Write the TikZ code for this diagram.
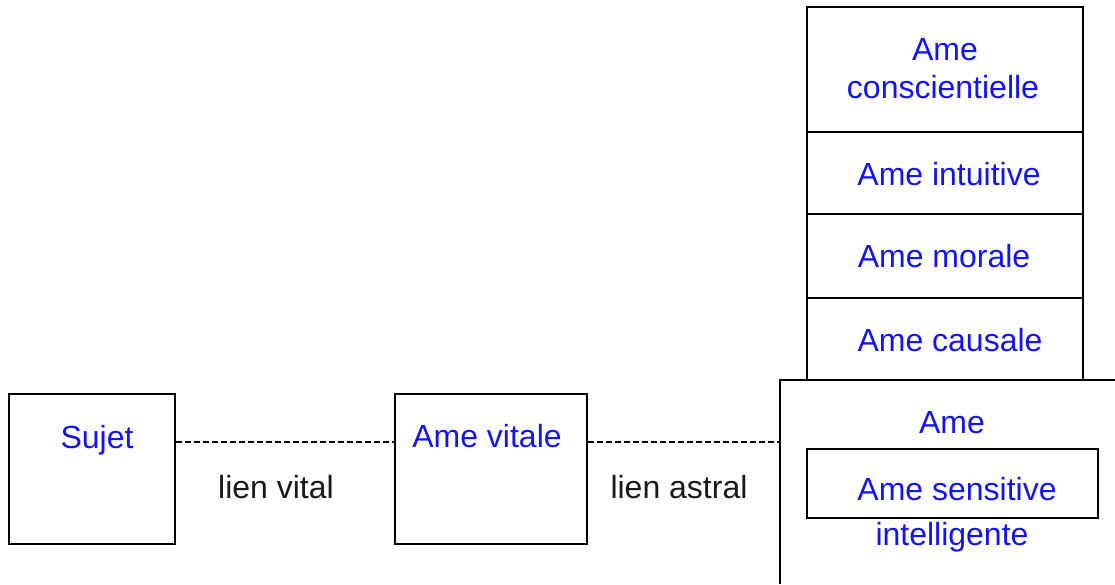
\documentclass[tikz,border=0pt]{standalone}
\usepackage{fontspec}
\setmainfont{Liberation Sans}
\definecolor{souleblue}{RGB}{20,20,240}
\definecolor{linkgray}{RGB}{25,25,25}
\tikzset{
  box/.style={draw=black, line width=1.6pt, rectangle, inner sep=0pt},
  soul/.style={font=\fontsize{32}{38}\selectfont, text=souleblue, anchor=base, inner sep=0pt},
  linktext/.style={font=\fontsize{32}{38}\selectfont, text=linkgray, anchor=base, inner sep=0pt},
  link/.style={draw=black, line width=1.5pt, dash pattern=on 6pt off 3pt}
}
\begin{document}
\begin{tikzpicture}[x=1pt,y=-1pt]
\useasboundingbox (0,0) rectangle (1115,584);
% left boxes
\node[box, minimum width=166pt, minimum height=150pt] (sujet) at (92,469) {};
\node[box, minimum width=192pt, minimum height=150pt] (vitale) at (491,469) {};
\node[soul] (tsujet) at (97,448) {Sujet};
\node[soul] (tvitale) at (487,447) {Ame vitale};
% big open box
\coordinate (bigtr) at (1115,380);
\coordinate (bigtl) at (780,380);
\coordinate (bigbl) at (780,584);
\coordinate (bigl) at (780,442);
\draw[line width=1.6pt] (bigtr) -- (bigtl) -- (bigbl);
% connectors
\draw[link] (sujet.east |- 0,442) -- (vitale.west |- 0,442);
\draw[link] (vitale.east |- 0,442) -- (bigl);
\node[linktext] (lvital) at (276,498) {lien vital};
\node[linktext] (lastral) at (679,498) {lien astral};
% stack
\node[box, minimum width=276pt, minimum height=125pt] (consc) at (945,69.5) {};
\node[box, minimum width=276pt, minimum height=82pt] (intu) at (945,173) {};
\node[box, minimum width=276pt, minimum height=84pt] (morale) at (945,256) {};
\node[box, minimum width=276pt, minimum height=82pt] (causale) at (945,339) {};
\node[soul] (tconsc1) at (945,60) {Ame};
\node[soul] (tconsc2) at (943,98) {conscientielle};
\node[soul] (tintu) at (949,185) {Ame intuitive};
\node[soul] (tmorale) at (944,267) {Ame morale};
\node[soul] (tcausale) at (950,351) {Ame causale};
% inside big box
\node[soul] (tame) at (952,433) {Ame};
\node[box, minimum width=291pt, minimum height=69pt] (sensitive) at (952.5,483.5) {};
\node[soul] (tsens) at (957,500) {Ame sensitive};
\node[soul] (tintel) at (952,545) {intelligente};
\end{tikzpicture}
\end{document}
